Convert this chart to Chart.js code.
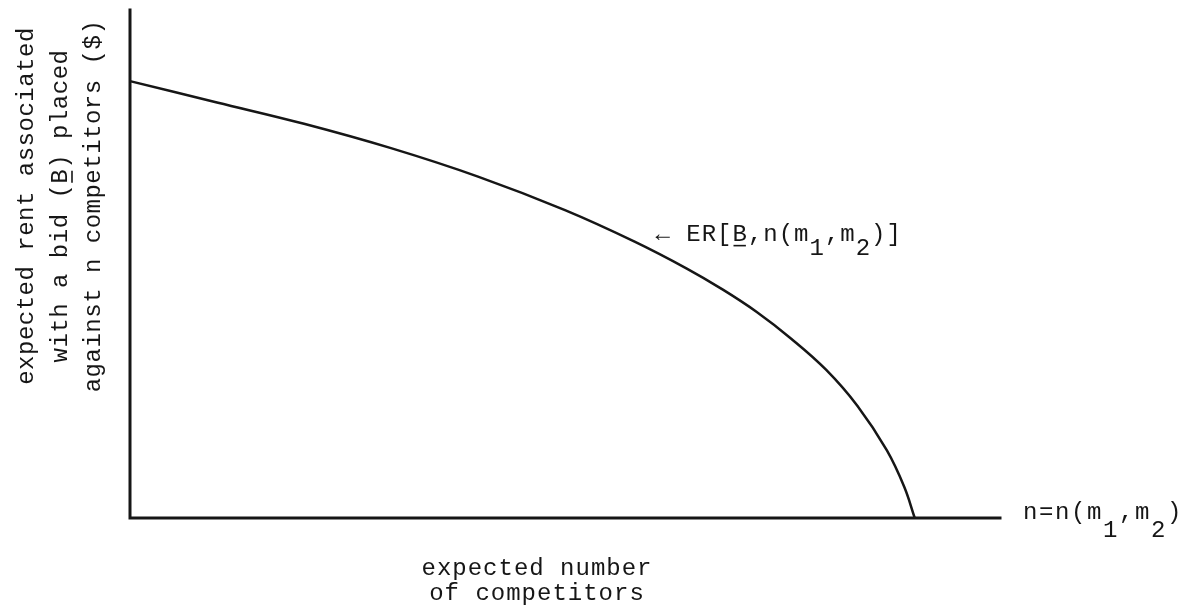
<!DOCTYPE html>
<html>
<head>
<meta charset="utf-8">
<script src="https://cdn.jsdelivr.net/npm/chart.js@4.4.1/dist/chart.umd.min.js"></script>
<style>
  html, body { margin: 0; padding: 0; background: #fff; }
  #wrap { width: 1193px; height: 610px; }
</style>
</head>
<body>
<div id="wrap"><canvas id="chart" width="1193" height="610"></canvas></div>
<script>
/* Expected rent vs expected number of competitors — typewriter style sketch */

// ── Data (axis units 0..100) ──
const nValues    = [0,    10,   20,   30,   40,   50,   58,   64,   68,   72,   76,   80,   83.6, 87,   89,  90.2];
const rentValues = [86.0, 81.8, 77.6, 72.8, 67.2, 60.6, 54.4, 49.1, 45.1, 40.6, 35.3, 29.2, 22.1, 13.3, 6.1, 0];

const yTitleLines = ['expected rent associated', 'with a bid (B) placed', 'against n competitors ($)'];
const xTitleLines = ['expected number', 'of competitors'];

// rich labels: [text, flag]  u = underlined, s = subscript
const curveLabel = [['\u2190 ER[', ''], ['B', 'u'], [',n(m', ''], ['1', 's'], [',m', ''], ['2', 's'], [')]', '']];
const axisLabel  = [['n=n(m', ''], ['1', 's'], [',m', ''], ['2', 's'], [')', '']];

const INK = '#161616';
const FONT = '24px "Liberation Mono", "DejaVu Sans Mono", monospace';

// ── Helpers ──
function setFont(ctx, spacing) {
    ctx.font = FONT;
    ctx.fillStyle = INK;
    ctx.strokeStyle = INK;
    ctx.letterSpacing = spacing || '1px';
    ctx.textBaseline = 'alphabetic';
    ctx.textAlign = 'left';
}

function drawRich(ctx, parts, x, y, subShift) {
    parts.forEach(([t, flag]) => {
        const w = ctx.measureText(t).width;
        ctx.fillText(t, x, flag === 's' ? y + subShift : y);
        if (flag === 'u') {
            ctx.lineWidth = 1.6;
            ctx.beginPath();
            ctx.moveTo(x + 1, y + 5);
            ctx.lineTo(x + w - 2, y + 5);
            ctx.stroke();
        }
        x += w;
    });
}

// ── Axes + text plugin ──
const sketchPlugin = {
    id: 'sketch',
    beforeDatasetsDraw(chart) {
        const { ctx, scales: { x, y } } = chart;
        const x0 = x.getPixelForValue(0), x1 = x.getPixelForValue(100);
        const y0 = y.getPixelForValue(0), y1 = y.getPixelForValue(100);
        ctx.save();
        ctx.strokeStyle = INK;
        ctx.lineWidth = 3;
        ctx.lineCap = 'square';
        ctx.beginPath();
        ctx.moveTo(x0, y1);
        ctx.lineTo(x0, y0);
        ctx.lineTo(x1, y0);
        ctx.stroke();
        ctx.restore();
    },
    afterDraw(chart) {
        const { ctx, chartArea, scales: { x, y } } = chart;
        ctx.save();

        // y title, rotated, three lines
        setFont(ctx, '0.5px');
        const midY = chartArea.top + 196;
        const baselines = [33, 67, 100];
        yTitleLines.forEach((line, i) => {
            ctx.save();
            ctx.translate(baselines[i], midY);
            ctx.rotate(-Math.PI / 2);
            const total = ctx.measureText(line).width;
            const start = -total / 2;
            ctx.fillText(line, start, 0);
            const bi = line.indexOf('(B)');
            if (bi >= 0) {
                const px = ctx.measureText(line.slice(0, bi + 1)).width;
                const bw = ctx.measureText('B').width;
                ctx.lineWidth = 1.6;
                ctx.beginPath();
                ctx.moveTo(start + px + 1, 5);
                ctx.lineTo(start + px + bw - 2, 5);
                ctx.stroke();
            }
            ctx.restore();
        });

        // x title, two centred lines
        setFont(ctx, '1px');
        ctx.textAlign = 'center';
        const cx = 537;
        ctx.fillText(xTitleLines[0], cx, chartArea.bottom + 57);
        ctx.fillText(xTitleLines[1], cx, chartArea.bottom + 82);
        ctx.textAlign = 'left';

        // curve label, pointing at the curve
        drawRich(ctx, curveLabel, x.getPixelForValue(60.4), y.getPixelForValue(54.6), 14);

        // axis end label
        setFont(ctx, '1.6px');
        drawRich(ctx, axisLabel, chartArea.right + 23, y.getPixelForValue(0) + 1, 18);

        ctx.restore();
    }
};

// ── Chart ──
const ctx = document.getElementById('chart').getContext('2d');
new Chart(ctx, {
    type: 'scatter',
    data: {
        datasets: [{
            data: nValues.map((n, i) => ({ x: n, y: rentValues[i] })),
            showLine: true,
            borderColor: INK,
            borderWidth: 2.5,
            pointRadius: 0,
            tension: 0.4,
            clip: false
        }]
    },
    options: {
        responsive: false,
        animation: false,
        layout: { padding: { left: 130, top: 10, right: 193, bottom: 92 } },
        scales: {
            x: { type: 'linear', display: false, min: 0, max: 100 },
            y: { type: 'linear', display: false, min: 0, max: 100 }
        },
        plugins: {
            legend: { display: false },
            tooltip: { enabled: false }
        }
    },
    plugins: [sketchPlugin]
});
</script>
</body>
</html>
